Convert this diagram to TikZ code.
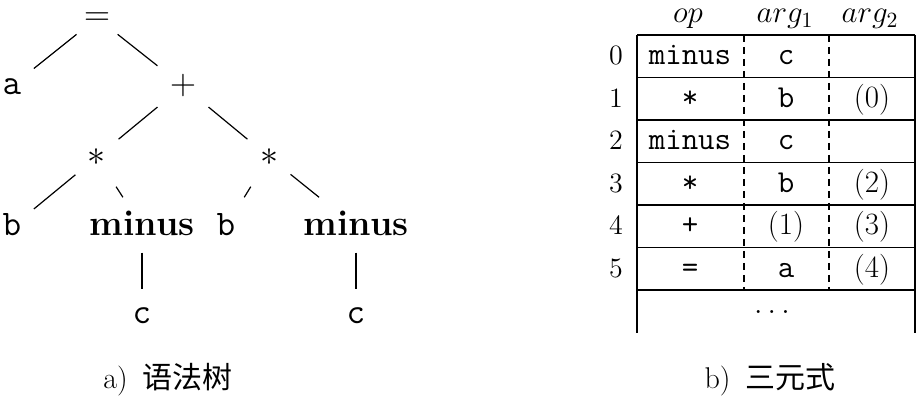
\RequirePackage{fix-cm}
\documentclass[tikz,border=0pt]{standalone}
\usepackage{fontspec}
\newfontfamily\cjk{Noto Sans CJK SC}

\tikzset{
  tree/.style={font=\fontsize{18}{20}\selectfont, inner sep=6pt,
    text height=12.6pt, text depth=4.5pt},
  cell/.style={font=\fontsize{14}{16}\selectfont, inner sep=2pt,
    text height=10pt, text depth=3.5pt},
  head/.style={cell, font=\fontsize{15.5}{18}\selectfont},
  ttcell/.style={cell, font=\fontsize{16}{18}\selectfont\ttfamily},
  caption/.style={font=\fontsize{15}{18}\selectfont}
}

\begin{document}
\begin{tikzpicture}[x=0.5pt, y=-0.5pt, line width=0.6pt]
\useasboundingbox (0,0) rectangle (923,400);

%%%%%%%%%%%%%%%%%%%%%% Tree

\draw (97,18) node[tree, text height=8pt, text depth=0pt, inner ysep=2pt] (eq) {$=$};
\draw (eq) ++(-85,68) node[tree] (a) {\texttt{a}};
\path[draw, shorten <=3pt] (eq) -- (a);
\draw (eq) ++(86,68) node[tree] (plus) {$+$};
\path[draw, shorten <=3pt] (eq) -- (plus);
%% left *
\draw (plus) ++(-86,71) node[tree] (mulL) {$*$};
\path[draw] (plus) -- (mulL);
\draw (mulL) ++(-85,70) node[tree] (bL) {\texttt{b}};
\path[draw] (mulL) -- (bL);
\draw (mulL) ++(45,70) node[tree] (minL) {\textbf{minus}};
\path[draw] (mulL) -- (minL);
\draw (minL) ++(0,88) node[tree] (cL) {\texttt{c}};
\path[draw, shorten <=-2pt, shorten >=-2pt] (minL) -- (cL);
%% right *
\draw (plus) ++(86,71) node[tree] (mulR) {$*$};
\path[draw] (plus) -- (mulR);
\draw (mulR) ++(-43,70) node[tree] (bR) {\texttt{b}};
\path[draw] (mulR) -- (bR);
\draw (mulR) ++(87,70) node[tree] (minR) {\textbf{minus}};
\path[draw] (mulR) -- (minR);
\draw (minR) ++(0,88) node[tree] (cR) {\texttt{c}};
\path[draw, shorten <=-2pt, shorten >=-2pt] (minR) -- (cR);

\draw (168,380) node[caption] (capA) {a)\hspace{0.5em}{\cjk 语法树}};

%%%%%%%%%%%%%%%%%%%%%% Triples

%% frame
\draw (637,35) -- (915,35);
\draw (637,77.5) -- (915,77.5);
\draw (637,120) -- (915,120);
\draw (637,162.5) -- (915,162.5);
\draw (637,205) -- (915,205);
\draw (637,247.5) -- (915,247.5);
\draw (637,290) -- (915,290);
\draw (637,35) -- (637,333);
\draw (915,35) -- (915,333);
\draw[dash pattern=on 3.5pt off 2.5pt] (744,35) -- (744,290);
\draw[dash pattern=on 3.5pt off 2.5pt] (829,35) -- (829,290);
%% head
\draw (688,16) node[head] (hop) {$op$};
\draw (785,16) node[head] (harg1) {$arg_1$};
\draw (870,16) node[head] (harg2) {$arg_2$};
%% rows
\draw (616,58) node[cell] (n0) {0};
\draw (n0) ++(74,0) node[ttcell] (op0) {minus};
\draw (n0) ++(170,0) node[ttcell] (x0) {c};
\draw (616,101) node[cell] (n1) {1};
\draw (n1) ++(74,0) node[ttcell] (op1) {*};
\draw (n1) ++(170,0) node[ttcell] (x1) {b};
\draw (n1) ++(256,0) node[head] (y1) {(0)};
\draw (616,143) node[cell] (n2) {2};
\draw (n2) ++(74,0) node[ttcell] (op2) {minus};
\draw (n2) ++(170,0) node[ttcell] (x2) {c};
\draw (616,186) node[cell] (n3) {3};
\draw (n3) ++(74,0) node[ttcell] (op3) {*};
\draw (n3) ++(170,0) node[ttcell] (x3) {b};
\draw (n3) ++(256,0) node[head] (y3) {(2)};
\draw (616,228) node[cell] (n4) {4};
\draw (n4) ++(74,0) node[ttcell] (op4) {+};
\draw (n4) ++(170,0) node[head] (x4) {(1)};
\draw (n4) ++(256,0) node[head] (y4) {(3)};
\draw (616,271) node[cell] (n5) {5};
\draw (n5) ++(74,0) node[ttcell] (op5) {=};
\draw (n5) ++(170,0) node[ttcell] (x5) {a};
\draw (n5) ++(256,0) node[head] (y5) {(4)};
\draw (772,307) node[head] (dots) {$\dots$};

\draw (770,380) node[caption] (capB) {b)\hspace{0.5em}{\cjk 三元式}};
\end{tikzpicture}
\end{document}
